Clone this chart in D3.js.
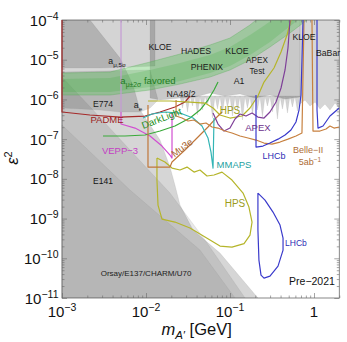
<!DOCTYPE html>
<html>
<head>
<meta charset="utf-8">
<script src="https://cdn.jsdelivr.net/npm/d3@7"></script>
<style>
  body { margin: 0; background: #fff; }
  svg { display: block; }
</style>
</head>
<body>
<div id="chart"></div>
<script>
// axis ranges and tick labels
const xDomain = [1e-3, 2];
const yDomain = [1e-11, 1e-4];
const xMajor = [1e-3, 1e-2, 1e-1, 1];
const xMajorLabels = [["10", "−3"], ["10", "−2"], ["10", "−1"], ["1", ""]];
const yMajor = [1e-4, 1e-5, 1e-6, 1e-7, 1e-8, 1e-9, 1e-10, 1e-11];
const yMajorLabels = ["−4", "−5", "−6", "−7", "−8", "−9", "−10", "−11"];

// excluded regions, [m_A' (GeV), eps^2]
const bdOuter = [[1e-3,1e-4],[2.15e-3,1e-4],[4.9e-3,1.1e-5],[7.0e-3,2.31e-6],[8.48e-3,5.41e-7],[1.47e-2,9.49e-8],[1.93e-2,1.98e-8],[2.21e-2,6.98e-9],[2.54e-2,2.19e-9],[3.63e-2,5.13e-10],[7.6e-2,1.35e-10],[0.215,1e-11],[1e-3,1e-11]];
const bdMid = [[1e-3,3.66e-6],[2.34e-3,5.41e-7],[6.45e-3,5.31e-8],[1.93e-2,4.39e-9],[5.04e-2,2.87e-10],[0.151,1e-11],[1e-3,1e-11]];
const bdInner = [[1e-3,2.27e-7],[6.45e-3,5.22e-9],[4.39e-2,1.61e-10],[0.1147,1e-11],[1e-3,1e-11]];
const amu5sigma = [[1e-3,1e-4],[1.28e-2,1e-4],[1.28e-2,6.94e-6],[6.45e-3,6.55e-6],[2.83e-3,6.18e-6],[1e-3,6.18e-6]];
const aeE774 = [[1e-3,4.9e-6],[1.116e-2,5.51e-6],[1.39e-2,9.66e-7],[1.116e-2,6.07e-7],[8.48e-3,4.82e-7],[4.9e-3,4.82e-7],[2.83e-3,5.41e-7],[1e-3,6.07e-7]];
const collider = [[1.116e-2,1e-4],[0.681,1e-4],[0.681,1.15e-6],[0.452,1.02e-6],[0.299,1.29e-6],[0.198,1.08e-6],[0.1316,1.37e-6],[0.0871,1.22e-6],[0.0578,1.45e-6],[0.0383,1.15e-6],[0.0254,1.08e-6],[0.0147,9.66e-7],[0.01116,1.08e-6]];
const colliderFringe = [[0.0254,1.22e-6],[0.0272,6.07e-7],[0.02913,1.22e-6],[0.03119,4.82e-7],[0.0334,1.22e-6],[0.03577,6.82e-7],[0.0383,1.22e-6],[0.04102,4.05e-7],[0.04392,1.22e-6],[0.04704,5.41e-7],[0.05037,1.22e-6],[0.05394,7.66e-7],[0.05776,1.22e-6],[0.06186,3.4e-7],[0.06624,1.22e-6],[0.07094,5.73e-7],[0.07596,1.22e-6],[0.08135,4.54e-7],[0.08711,1.22e-6],[0.09329,6.44e-7],[0.0999,1.22e-6],[0.107,3.82e-7],[0.1146,1.22e-6],[0.1227,5.1e-7],[0.1314,1.22e-6],[0.1407,3.03e-7],[0.1507,1.22e-6],[0.1614,6.07e-7],[0.1728,1.22e-6],[0.1851,4.29e-7],[0.1982,1.22e-6],[0.2122,5.41e-7],[0.2273,1.22e-6],[0.2434,3.6e-7],[0.2607,1.22e-6],[0.2792,6.82e-7],[0.2989,1.22e-6],[0.3201,4.82e-7],[0.3428,1.22e-6],[0.3671,3.21e-7],[0.3932,1.22e-6],[0.421,5.73e-7],[0.4509,1.22e-6],[0.4829,4.54e-7],[0.5171,1.22e-6],[0.5538,6.44e-7],[0.593,1.22e-6],[0.6351,5.1e-7],[0.6801,1.22e-6]];
const babar = [[0.681,1e-4],[2.0,1e-4],[2.0,6.07e-7],[1.78,8.11e-7],[1.55,5.41e-7],[1.35,7.66e-7],[1.18,5.73e-7],[1.03,8.6e-7],[0.896,6.82e-7],[0.781,9.66e-7],[0.681,7.66e-7]];

// g-2 muon favoured band
const amuBandOuter = [[1e-3,4.62e-6],[3.73e-3,4.9e-6],[1.116e-2,8.75e-6],[2.54e-2,1.39e-5],[5.78e-2,2.35e-5],[0.1,3.52e-5],[0.173,7.48e-5],[0.204,1e-4],[0.826,1e-4],[0.518,4.71e-5],[0.299,2.09e-5],[0.173,9.82e-6],[0.1,5.51e-6],[5.78e-2,3.66e-6],[2.54e-2,2.44e-6],[1.116e-2,1.73e-6],[3.73e-3,1.29e-6],[1e-3,1.29e-6]];
const amuBandInner = [[1e-3,3.27e-6],[3.73e-3,3.46e-6],[1.116e-2,5.51e-6],[2.54e-2,8.26e-6],[5.78e-2,1.31e-5],[0.1,2.09e-5],[0.173,4.19e-5],[0.261,7.48e-5],[0.316,1e-4],[0.645,1e-4],[0.452,5.6e-5],[0.299,2.79e-5],[0.173,1.31e-5],[0.1,6.94e-6],[5.78e-2,4.62e-6],[2.54e-2,2.91e-6],[1.116e-2,2.05e-6],[3.73e-3,1.54e-6],[1e-3,1.54e-6]];

// projections
const padme = [[1e-3,1e-4],[1e-3,4.82e-7],[2.15e-3,4.05e-7],[4.9e-3,3.6e-7],[9.73e-3,3.82e-7],[1.47e-2,4.82e-7],[2.21e-2,6.44e-7],[2.91e-2,8.6e-7],[3.34e-2,1.22e-6]];
const lavender = [[5.04e-3,1e-4],[5.04e-3,4.82e-7]];
const vepp3 = [[5.04e-3,4.82e-7],[5.04e-3,2.4e-7],[7.4e-3,1.9e-7],[1.116e-2,1.2e-7],[1.55e-2,6.7e-8],[1.93e-2,3.98e-8],[2.04e-2,3.34e-8],[2.04e-2,4.82e-7]];
const darkLight = [[3.08e-3,1.2e-7],[5.62e-3,1.2e-7],[9.73e-3,1.27e-7],[1.47e-2,1.6e-7],[2.21e-2,2.14e-7],[3.34e-2,3.4e-7],[4.39e-2,5.41e-7],[5.47e-2,9.66e-7],[6.45e-2,1.73e-6],[7.2e-2,2.74e-6]];
const hpsUpper = [[1.056e-2,9.12e-7],[1.93e-2,9.12e-7],[3.34e-2,8.6e-7],[5.04e-2,8.11e-7],[6.28e-2,6.07e-7],[7.6e-2,4.05e-7],[0.1,3.4e-7],[0.139,3.82e-7],[0.173,6.07e-7],[0.215,1.22e-6],[0.254,2.74e-6],[0.334,6.18e-6],[0.405,1.56e-5],[0.477,4.19e-5],[0.532,1e-4]];
const hpsLower = [[1.35e-2,3.34e-8],[1.68e-2,2.65e-8],[2.04e-2,1.87e-8],[2.54e-2,1.67e-8],[3.08e-2,1.98e-8],[3.73e-2,1.48e-8],[4.39e-2,1.67e-8],[5.32e-2,1.18e-8],[6.45e-2,1.25e-8],[8.03e-2,1.48e-8],[0.1056,9.33e-9],[0.143,4.39e-9],[0.168,1.95e-9],[0.183,8.17e-10],[0.173,3.84e-10],[0.147,2.34e-10],[0.1056,1.91e-10],[7.6e-2,2.03e-10],[5.04e-2,3.42e-10],[3.34e-2,5.77e-10],[2.21e-2,8.17e-10],[1.55e-2,9.7e-10],[1.39e-2,2.19e-9],[1.35e-2,9.33e-9],[1.35e-2,3.34e-8]];
const mu3e = [[1.056e-2,7.23e-7],[1.056e-2,1.98e-8],[1.93e-2,1.98e-8],[2.04e-2,2.65e-8],[2.91e-2,5.31e-8],[4.05e-2,1.07e-7],[5.47e-2,2.02e-7],[6.81e-2,3.4e-7],[8.03e-2,4.82e-7]];
const mmaps = [[9.21e-3,3.4e-7],[1.18e-2,4.29e-7],[1.68e-2,4.82e-7],[2.54e-2,4.54e-7],[3.63e-2,3.4e-7],[4.64e-2,2.14e-7],[5.47e-2,1.07e-7],[5.94e-2,4.73e-8],[6.28e-2,1.87e-8],[6.45e-2,3.4e-7]];
const apex = [[6.28e-2,4.54e-7],[7.2e-2,2.4e-7],[8.49e-2,1.6e-7],[0.1,1.9e-7],[0.1147,3.21e-7],[0.1316,4.29e-7],[0.155,3.82e-7],[0.183,4.54e-7],[0.215,3.6e-7],[0.254,3.4e-7],[0.299,4.82e-7],[0.353,8.6e-7],[0.405,1.94e-6],[0.452,5.51e-6],[0.49,1.97e-5],[0.518,1e-4]];
const lhcbUpper = [[0.204,1.29e-6],[0.204,6.32e-8],[0.247,6.7e-8],[0.299,7.97e-8],[0.373,1.0e-7],[0.452,1.27e-7],[0.532,1.7e-7],[0.61,2.7e-7],[0.663,5.41e-7],[0.70,1.29e-6],[0.719,9.82e-6],[0.74,1e-4]];
const lhcbUpper2 = [[1.086,1e-4],[1.086,5.41e-7],[1.116,1.9e-7],[1.28,2.14e-7],[1.55,3.82e-7],[2.0,6.07e-7]];
const lhcbLower = [[0.215,4.39e-9],[0.215,5.13e-10],[0.221,9.02e-11],[0.234,3.78e-11],[0.254,3.17e-11],[0.299,3.56e-11],[0.373,6.37e-11],[0.428,1.61e-10],[0.428,3.23e-10],[0.394,6.86e-10],[0.325,1.46e-9],[0.261,2.92e-9],[0.215,4.39e-9]];
const belle2 = [[2.28e-2,9.66e-7],[2.28e-2,3.82e-7],[2.68e-2,3.4e-7],[3.16e-2,2.86e-7],[3.73e-2,3.03e-7],[4.39e-2,2.4e-7],[5.18e-2,2.55e-7],[6.11e-2,2.02e-7],[7.2e-2,1.9e-7],[8.71e-2,1.6e-7],[0.1056,1.43e-7],[0.1316,1.2e-7],[0.164,1.07e-7],[0.204,9.49e-8],[0.254,7.97e-8],[0.316,7.52e-8],[0.394,8.45e-8],[0.49,1.0e-7],[0.61,1.2e-7],[0.719,1.43e-7],[0.76,1e-4]];
const belle2b = [[0.946,1e-4],[0.973,1.6e-7],[1.178,1.6e-7],[1.39,1.8e-7],[1.55,2.14e-7],[1.73,1.9e-7],[2.0,2.02e-7]];

// labels: id, text parts, anchor
const labels = [
  {id: "kloe1", parts: [["KLOE"]], m: 1.47e-2, e: 2.09e-5},
  {id: "hades", parts: [["HADES"]], m: 3.94e-2, e: 1.66e-5},
  {id: "kloe2", parts: [["KLOE"]], m: 0.121, e: 1.66e-5},
  {id: "phenix", parts: [["PHENIX"]], m: 5.32e-2, e: 6.55e-6},
  {id: "a1", parts: [["A1"]], m: 0.128, e: 2.91e-6},
  {id: "apext1", parts: [["APEX"]], m: 0.2096, e: 9.82e-6},
  {id: "apext2", parts: [["Test"]], m: 0.2096, e: 5.19e-6},
  {id: "kloe3", parts: [["KLOE"]], m: 0.76, e: 3.73e-5},
  {id: "babar", parts: [["BaBar"]], m: 1.47, e: 1.48e-5},
  {id: "amu5", parts: [["a"], ["μ,5σ", "sub"]], m: 4.52e-3, e: 9.27e-6},
  {id: "amu2", parts: [["a"], ["μ±2σ", "sub"], [" favored"]], m: 1.056e-2, e: 2.91e-6},
  {id: "na48", parts: [["NA48/2"]], m: 2.61e-2, e: 1.37e-6},
  {id: "e774", parts: [["E774"]], m: 3.08e-3, e: 7.66e-7},
  {id: "ae", parts: [["a"], ["e", "sub"]], m: 8.03e-3, e: 7.23e-7},
  {id: "padme", parts: [["PADME"]], m: 3.43e-3, e: 3.03e-7},
  {id: "vepp", parts: [["VEPP−3"]], m: 4.9e-3, e: 5.01e-8},
  {id: "e141", parts: [["E141"]], m: 3.08e-3, e: 8.81e-9},
  {id: "darklight", parts: [["DarkLight"]], m: 1.59e-2, e: 3.4e-7},
  {id: "mu3e", parts: [["Mu3e"]], m: 2.83e-2, e: 6.32e-8},
  {id: "hps1", parts: [["HPS"]], m: 0.1, e: 5.41e-7},
  {id: "mmaps", parts: [["MMAPS"]], m: 0.1117, e: 2.23e-8},
  {id: "apex", parts: [["APEX"]], m: 0.215, e: 1.9e-7},
  {id: "lhcb1", parts: [["LHCb"]], m: 0.334, e: 3.75e-8},
  {id: "belle", parts: [["Belle−II"]], m: 0.849, e: 5.31e-8},
  {id: "belle5", parts: [["5ab"], ["−1", "sup"]], m: 0.896, e: 2.65e-8},
  {id: "hps2", parts: [["HPS"]], m: 0.1147, e: 2.46e-9},
  {id: "lhcb2", parts: [["LHCb"]], m: 0.61, e: 2.41e-10},
  {id: "orsay", parts: [["Orsay/E137/CHARM/U70"]], m: 1e-2, e: 4.24e-11},
  {id: "pre", parts: [["Pre−2021"]], m: 0.946, e: 2.67e-11}
];

const labelStyle = {
  apext1: {size: 8.2},
  apext2: {size: 8.2},
  amu2: {fill: "#1f7a1f", size: 9.5},
  padme: {fill: "#9c1c1c", size: 9.5},
  vepp: {fill: "#c33fc3", size: 9.5},
  darklight: {fill: "#1e8f1e", size: 9.8, rot: -21},
  mu3e: {fill: "#a5632c", size: 9.5, rot: -37},
  hps1: {fill: "#9c9c1c", size: 10},
  hps2: {fill: "#9c9c1c", size: 10},
  mmaps: {fill: "#229f9f", size: 9.5},
  apex: {fill: "#6b2f8a", size: 9.5},
  lhcb1: {fill: "#2d2db5", size: 9},
  lhcb2: {fill: "#2d2db5", size: 8.5},
  belle: {fill: "#ad6c34", size: 9},
  belle5: {fill: "#ad6c34", size: 9},
  orsay: {fill: "#222", size: 8},
  pre: {fill: "#111", size: 10.5},
  e141: {fill: "#111", size: 8.5}
};

const width = 347, height = 342;
const x0 = 62, x1 = 62 + 84 * Math.log10(2000), y0 = 20, y1 = 298;

const svg = d3.select("#chart").append("svg")
  .attr("width", width)
  .attr("height", height)
  .style("font-family", "'Liberation Sans', Arial, sans-serif");

svg.append("rect").attr("width", width).attr("height", height).attr("fill", "#fff");

const x = d3.scaleLog().domain(xDomain).range([x0, x1]);
const y = d3.scaleLog().domain(yDomain).range([y1, y0]);

svg.append("clipPath").attr("id", "plot")
  .append("rect").attr("x", x0 - 1).attr("y", y0).attr("width", x1 - x0 + 1).attr("height", y1 - y0);

const line = d3.line().x(d => x(d[0])).y(d => y(d[1]));
const plot = svg.append("g").attr("clip-path", "url(#plot)");

// gray regions
const grays = [
  [bdOuter, 0.16], [bdMid, 0.09], [bdInner, 0.06],
  [amu5sigma, 0.17], [aeE774, 0.14], [collider, 0.21], [colliderFringe, 0.17], [babar, 0.16]
];
grays.forEach(([pts, a]) => {
  plot.append("path")
    .attr("d", line(pts) + "Z")
    .attr("fill", "#000")
    .attr("fill-opacity", a)
    .attr("stroke", "#8a8a8a")
    .attr("stroke-opacity", 0.4)
    .attr("stroke-width", 0.4);
});

// green band
plot.append("path").attr("d", line(amuBandOuter) + "Z")
  .attr("fill", "#5cc45c").attr("fill-opacity", 0.38)
  .attr("stroke", "#4aa84a").attr("stroke-opacity", 0.5).attr("stroke-width", 0.6);
plot.append("path").attr("d", line(amuBandInner) + "Z")
  .attr("fill", "#3cae3c").attr("fill-opacity", 0.22)
  .attr("stroke", "none");

// frame and ticks
const axisColor = "#6a6a6a";
function minorTicks(lo, hi, max) {
  const out = [];
  for (let k = lo; k <= hi; k++) for (let j = 2; j <= 9; j++) {
    const v = j * Math.pow(10, k);
    if (v <= max) out.push(v);
  }
  return out;
}
const xMinor = minorTicks(-3, 0, 2);
const yMinor = minorTicks(-11, -5, 1e-4);

function styleAxis(g) {
  g.select(".domain").remove();
  g.selectAll("line").attr("stroke", axisColor).attr("stroke-width", 0.6);
}
[[d3.axisBottom(x), y1], [d3.axisTop(x), y0]].forEach(([ax, pos]) => {
  svg.append("g").attr("transform", `translate(0,${pos})`)
    .call(ax.tickValues(xMajor).tickSize(-5).tickFormat("")).call(styleAxis);
  svg.append("g").attr("transform", `translate(0,${pos})`)
    .call(ax.tickValues(xMinor).tickSize(-2.5).tickFormat("")).call(styleAxis);
});
[[d3.axisLeft(y), x0], [d3.axisRight(y), x1]].forEach(([ax, pos]) => {
  svg.append("g").attr("transform", `translate(${pos},0)`)
    .call(ax.tickValues(yMajor).tickSize(-5).tickFormat("")).call(styleAxis);
  svg.append("g").attr("transform", `translate(${pos},0)`)
    .call(ax.tickValues(yMinor).tickSize(-2.5).tickFormat("")).call(styleAxis);
});
svg.append("rect")
  .attr("x", x0).attr("y", y0).attr("width", x1 - x0).attr("height", y1 - y0)
  .attr("fill", "none").attr("stroke", axisColor).attr("stroke-width", 0.8);

// projection curves
const curves = [
  [padme, "#a52a2a"], [lavender, "#c49ad4"], [vepp3, "#d14fd1"], [darkLight, "#3aaa3a"],
  [hpsUpper, "#b5b52a"], [hpsLower, "#b5b52a"], [mu3e, "#c0773a"], [mmaps, "#33b5b5"],
  [apex, "#7e3f98"], [belle2, "#c7803f"], [belle2b, "#c7803f"],
  [lhcbUpper, "#3a3acb"], [lhcbUpper2, "#3a3acb"], [lhcbLower, "#3a3acb"]
];
const curveLayer = svg.append("g").attr("clip-path", "url(#plot)");
curves.forEach(([pts, c]) => {
  curveLayer.append("path")
    .attr("d", line(pts))
    .attr("fill", "none")
    .attr("stroke", c)
    .attr("stroke-width", 1.2)
    .attr("stroke-linejoin", "round");
});

// labels
function richText(sel, parts, size) {
  let shift = 0;
  parts.forEach(([s, mode]) => {
    const target = mode === "sub" ? size * 0.3 : mode === "sup" ? -size * 0.4 : 0;
    sel.append("tspan")
      .attr("dy", target - shift)
      .attr("font-size", mode ? size * 0.72 : size)
      .text(s);
    shift = target;
  });
}
labels.forEach(l => {
  const st = labelStyle[l.id] || {};
  const size = st.size || 8.7;
  const t = svg.append("text")
    .attr("transform", `translate(${x(l.m)},${y(l.e) + size * 0.35}) rotate(${st.rot || 0})`)
    .attr("text-anchor", "middle")
    .attr("fill", st.fill || "#1a1a1a")
    .attr("font-size", size);
  richText(t, l.parts, size);
});

// tick labels
yMajor.forEach((v, i) => {
  const t = svg.append("text")
    .attr("x", x0 - 3.5).attr("y", y(v) + 5.5)
    .attr("text-anchor", "end").attr("font-size", 15).attr("fill", "#111");
  t.append("tspan").text("10");
  t.append("tspan").attr("dy", -6).attr("font-size", 10.5).text(yMajorLabels[i]);
});
xMajor.forEach((v, i) => {
  const t = svg.append("text")
    .attr("x", x(v)).attr("y", 317)
    .attr("text-anchor", "middle").attr("font-size", 15).attr("fill", "#111");
  t.append("tspan").text(xMajorLabels[i][0]);
  if (xMajorLabels[i][1]) t.append("tspan").attr("dy", -6).attr("font-size", 10.5).text(xMajorLabels[i][1]);
});

// axis titles
const xt = svg.append("text")
  .attr("x", (x0 + x1) / 2 - 4).attr("y", 335)
  .attr("text-anchor", "middle").attr("font-size", 16.5).attr("fill", "#111");
xt.append("tspan").attr("font-style", "italic").text("m");
xt.append("tspan").attr("font-style", "italic").attr("font-size", 11.5).attr("dy", 4).text("A′");
xt.append("tspan").attr("dy", -4).text(" [GeV]");

const yt = svg.append("text")
  .attr("transform", "translate(18,158) rotate(-90)")
  .attr("text-anchor", "middle").attr("font-size", 16.5).attr("fill", "#111");
yt.append("tspan").attr("font-style", "italic").text("ε");
yt.append("tspan").attr("dy", -6).attr("font-size", 11).text("2");
</script>
</body>
</html>
